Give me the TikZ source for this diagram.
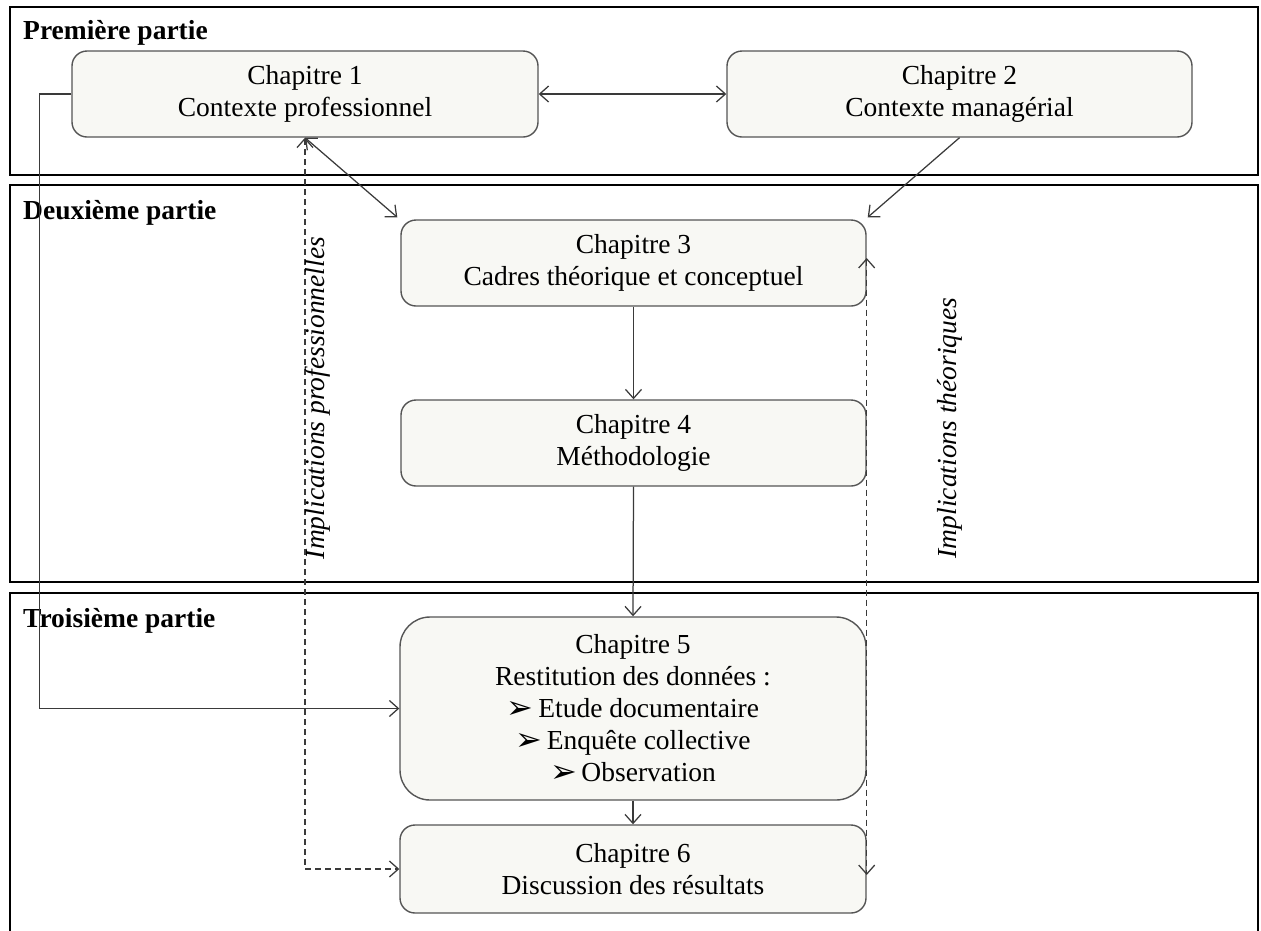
\documentclass[tikz,border=0pt]{standalone}
\usepackage{fontspec}
\setmainfont{Liberation Serif}
\newfontfamily\dingfont{DejaVu Sans}
\usetikzlibrary{arrows.meta}
\definecolor{boxfill}{HTML}{F8F8F4}
\definecolor{boxline}{HTML}{555555}
\definecolor{arrowline}{HTML}{3A3A3A}
\tikzset{
  frame/.style={line width=2pt, draw=black},
  chap/.style={draw=boxline, fill=boxfill, line width=1.4pt, rounded corners=15pt,
    align=center, inner sep=0pt, font=\fontsize{27.5}{32}\selectfont},
  partlabel/.style={anchor=base west, font=\fontsize{27.5}{32}\selectfont\bfseries, inner sep=0pt},
  conn/.style={draw=arrowline, line width=1.25pt, -{Straight Barb[length=9pt,width=16pt]}},
  bothconn/.style={draw=arrowline, line width=1.25pt, {Straight Barb[length=9pt,width=16pt]}-{Straight Barb[length=9pt,width=16pt]}},
  dconn/.style={draw=arrowline, line width=1.25pt, dash pattern=on 6pt off 4pt},
  implab/.style={rotate=90, font=\fontsize{27.5}{32}\selectfont\itshape, inner sep=0pt}
}
\newcommand{\bul}{\smash{\raisebox{-1pt}{\dingfont\fontsize{32}{32}\selectfont ➢}}\,}
\begin{document}
\begin{tikzpicture}[x=1pt,y=-1pt]
\useasboundingbox (0,0) rectangle (1261,930);
\begin{scope}
\clip (0,0) rectangle (1261,930);
% frames
\draw[frame] (10,7) rectangle (1258,175);
\draw[frame] (10,185) rectangle (1258,582);
\draw[frame] (10,945) -- (10,593) -- (1258,593) -- (1258,945);
\end{scope}
\node[partlabel] (p1) at (23,39) {Première partie};
\node[partlabel] (p2) at (23,219) {Deuxième partie};
\node[partlabel] (p3) at (23,627) {Troisième partie};
% boxes
\node[chap, minimum width=466pt, minimum height=86pt] (c1) at (305,94) {Chapitre 1\\Contexte professionnel};
\node[chap, minimum width=465pt, minimum height=86pt] (c2) at (959.5,94) {Chapitre 2\\Contexte managérial};
\node[chap, minimum width=465pt, minimum height=86pt] (c3) at (633.5,263) {Chapitre 3\\Cadres théorique et conceptuel};
\node[chap, minimum width=465pt, minimum height=86pt] (c4) at (633.5,443) {Chapitre 4\\Méthodologie};
\node[chap, minimum width=466pt, minimum height=183pt, rounded corners=30pt] (c5) at (633,708.5) {Chapitre 5\\Restitution des données :\\\bul Etude documentaire\\\bul Enquête collective\\\bul Observation};
\node[chap, minimum width=466pt, minimum height=88pt] (c6) at (633,869) {Chapitre 6\\Discussion des résultats};
% connectors
\draw[bothconn] (c1.east) -- (c2.west);
\draw[bothconn] (c1.south) -- ([shift={(-3pt,2pt)}]c3.north west);
\draw[conn] (c2.south) -- ([shift={(1pt,2pt)}]c3.north east);
\draw[conn] (c3.south) -- (c4.north);
\draw[conn] (c4.south) -- (c5.north);
\draw[conn] (c5.south) -- (c6.north);
\draw[conn] (c1.west) -- ++(-32,0) |- (c5.west);
\draw[dconn, {Straight Barb[length=9pt,width=16pt]}-{Straight Barb[length=9pt,width=16pt]}] (c1.south) -- (c1.south |- c6.west) -- (c6.west);
\draw[dconn, {Straight Barb[length=9pt,width=16pt]}-{Straight Barb[length=9pt,width=16pt]}] ([yshift=5pt]c3.east) -- ([yshift=-6pt]c6.east);
% labels
\node[implab] (ip) at (318,398) {Implications professionnelles};
\node[implab] (it) at (950,428) {Implications théoriques};
\end{tikzpicture}
\end{document}
